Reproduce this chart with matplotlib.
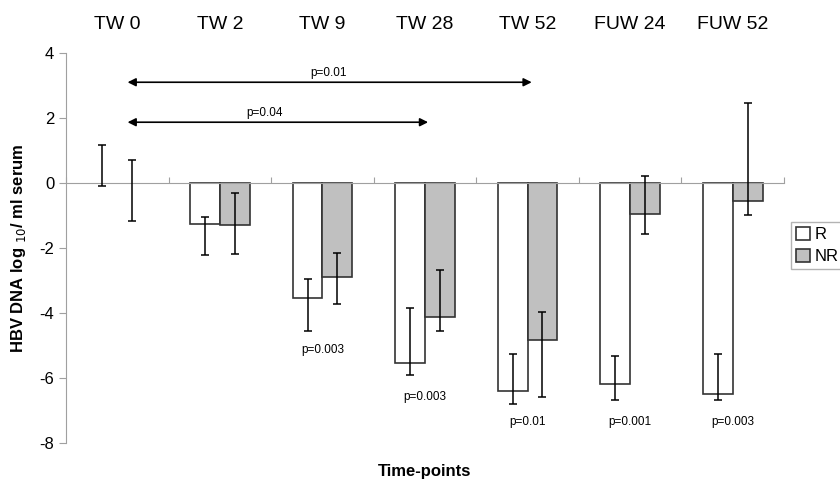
import numpy as np
import matplotlib.pyplot as plt
from matplotlib.patches import Patch

plt.rcParams['font.family'] = ['Liberation Sans', 'DejaVu Sans']
plt.rcParams['axes.unicode_minus'] = False

# time-points
labels = ["TW 0", "TW 2", "TW 9", "TW 28", "TW 52", "FUW 24", "FUW 52"]

# mean change in HBV DNA, responders (R) and non-responders (NR)
r_vals = [0.0, -1.25, -3.53, -5.55, -6.40, -6.20, -6.49]
nr_vals = [0.0, -1.28, -2.89, -4.13, -4.83, -0.96, -0.54]

# error bar ends (low, high)
r_low = [-0.09, -2.22, -4.54, -5.90, -6.81, -6.69, -6.69]
r_high = [1.16, -1.05, -2.95, -3.85, -5.25, -5.33, -5.25]
nr_low = [-1.16, -2.20, -3.73, -4.54, -6.58, -1.57, -0.98]
nr_high = [0.70, -0.32, -2.14, -2.67, -3.96, 0.20, 2.47]

# p-values under the bars
p_pos = [2, 3, 4, 5, 6]
p_y = [-5.14, -6.6, -7.34, -7.34, -7.34]
p_text = ["p=0.003", "p=0.003", "p=0.01", "p=0.001", "p=0.003"]

# comparison arrows from TW 0
arrow_start = [0.1, 0.1]
arrow_end = [4.04, 3.03]
arrow_y = [3.1, 1.87]
arrow_text = ["p=0.01", "p=0.04"]
arrow_text_x = [2.06, 1.44]

x = np.arange(len(labels))
w = 0.29

fig = plt.figure(figsize=(8.4, 4.8), dpi=100)
ax = fig.add_axes([0.0786, 0.0771, 0.8548, 0.8125])

# zero-height bars (TW 0) get no outline
r_edges = ["none" if v == 0 else "#333333" for v in r_vals]
nr_edges = ["none" if v == 0 else "#333333" for v in nr_vals]
ax.bar(x - w / 2, r_vals, w, color="white", edgecolor=r_edges, linewidth=1.2, zorder=2)
ax.bar(x + w / 2, nr_vals, w, color="#c0c0c0", edgecolor=nr_edges, linewidth=1.2, zorder=2)

r_err = [np.array(r_vals) - np.array(r_low), np.array(r_high) - np.array(r_vals)]
nr_err = [np.array(nr_vals) - np.array(nr_low), np.array(nr_high) - np.array(nr_vals)]
ax.errorbar(x - w / 2, r_vals, yerr=r_err, fmt="none", ecolor="black", elinewidth=1.1, capsize=3, capthick=1.1, zorder=3)
ax.errorbar(x + w / 2, nr_vals, yerr=nr_err, fmt="none", ecolor="black", elinewidth=1.1, capsize=3, capthick=1.1, zorder=3)

for i in range(len(arrow_y)):
    ax.annotate("", xy=(arrow_end[i], arrow_y[i]), xytext=(arrow_start[i], arrow_y[i]),
                arrowprops=dict(arrowstyle="<|-|>", color="black", lw=1.2, mutation_scale=12, shrinkA=0, shrinkB=0))
    ax.text(arrow_text_x[i], arrow_y[i] + 0.1, arrow_text[i], ha="center", va="bottom", fontsize=8.5)

for i in range(len(p_pos)):
    ax.text(p_pos[i], p_y[i], p_text[i], ha="center", va="center", fontsize=8.5)

for i in range(len(labels)):
    ax.text(x[i], 1.074, labels[i], transform=ax.get_xaxis_transform(), ha="center", va="center", fontsize=14)

ax.set_xlim(-0.5, 6.5)
ax.set_ylim(-8, 4)
ax.set_yticks([4, 2, 0, -2, -4, -6, -8])
ax.tick_params(axis="y", labelsize=12, color="#a0a0a0", length=5, direction="out")

ax.spines["bottom"].set_position(("data", 0))
ax.set_xticks(np.arange(-0.5, 7, 1))
ax.set_xticklabels([])
ax.tick_params(axis="x", direction="in", length=4, color="#a0a0a0")
for s in ["top", "right"]:
    ax.spines[s].set_visible(False)
for s in ["left", "bottom"]:
    ax.spines[s].set_color("#a0a0a0")

ax.set_ylabel(r"HBV DNA log $_{10}$/ ml serum", fontsize=12, fontweight="bold", labelpad=8)
fig.text(0.506, 0.018, "Time-points", ha="center", va="center", fontsize=12, fontweight="bold")

handles = [Patch(facecolor="white", edgecolor="#333333", linewidth=1.2, label="R"),
           Patch(facecolor="#c0c0c0", edgecolor="#333333", linewidth=1.2, label="NR")]
leg = fig.legend(handles=handles, loc="upper left", bbox_to_anchor=(0.942, 0.5375), fontsize=12, frameon=True,
                 fancybox=False, handlelength=0.8, handleheight=0.8, handletextpad=0.3,
                 borderpad=0.3, labelspacing=0.4, borderaxespad=0)
leg.get_frame().set_edgecolor("#a0a0a0")
leg.get_frame().set_linewidth(1)

fig.savefig("out.png", dpi=100)
